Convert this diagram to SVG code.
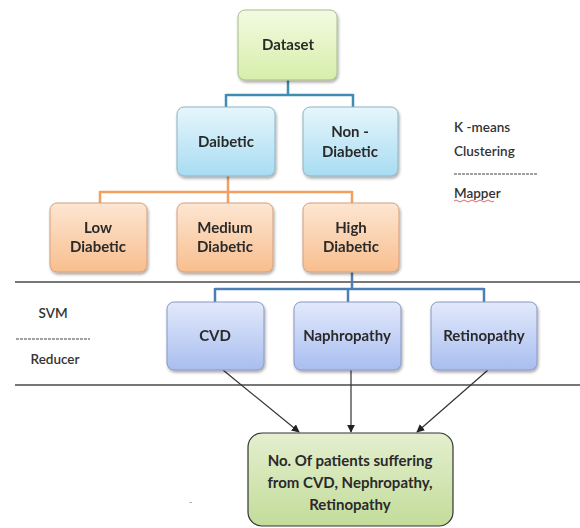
<svg xmlns="http://www.w3.org/2000/svg" width="580" height="528" viewBox="0 0 580 528">
<defs>
  <linearGradient id="gGreen" x1="0" y1="0" x2="0" y2="1">
    <stop offset="0" stop-color="#f4fae2"/>
    <stop offset="1" stop-color="#d6eeaa"/>
  </linearGradient>
  <linearGradient id="gCyan" x1="0" y1="0" x2="0" y2="1">
    <stop offset="0" stop-color="#e6f6fc"/>
    <stop offset="1" stop-color="#a8dcf2"/>
  </linearGradient>
  <linearGradient id="gOrange" x1="0" y1="0" x2="0" y2="1">
    <stop offset="0" stop-color="#fde6d2"/>
    <stop offset="1" stop-color="#f8be8e"/>
  </linearGradient>
  <linearGradient id="gBlue" x1="0" y1="0" x2="0" y2="1">
    <stop offset="0" stop-color="#e2e9fb"/>
    <stop offset="1" stop-color="#a9bef0"/>
  </linearGradient>
  <linearGradient id="gResult" x1="0" y1="0" x2="0" y2="1">
    <stop offset="0" stop-color="#e4efcf"/>
    <stop offset="1" stop-color="#c3dc9a"/>
  </linearGradient>
  <filter id="shadow" x="-10%" y="-10%" width="125%" height="130%">
    <feGaussianBlur in="SourceAlpha" stdDeviation="1.5"/>
    <feOffset dx="1" dy="2" result="b"/>
    <feComponentTransfer><feFuncA type="linear" slope="0.35"/></feComponentTransfer>
    <feMerge><feMergeNode/><feMergeNode in="SourceGraphic"/></feMerge>
  </filter>
  <marker id="arrow" viewBox="0 0 10 10" refX="9" refY="5" markerWidth="8" markerHeight="8" orient="auto-start-reverse" markerUnits="userSpaceOnUse">
    <path d="M0,0 L10,5 L0,10 z" fill="#222"/>
  </marker>
</defs>
<style>
  .box { filter: url(#shadow); }
  .green { fill: url(#gGreen); stroke: #a9bd8c; stroke-width: 1; }
  .cyan { fill: url(#gCyan); stroke: #8cb4c6; stroke-width: 1; }
  .orange { fill: url(#gOrange); stroke: #d49f7c; stroke-width: 1; }
  .blue { fill: url(#gBlue); stroke: #8797c2; stroke-width: 1; }
  .result { fill: url(#gResult); stroke: #333; stroke-width: 1.2; }
  .lbl { font-family: Lato, "Liberation Sans", sans-serif; font-weight: bold; font-size: 15px; fill: #2a2a2a; text-anchor: middle; }
  .side { font-family: Lato, "Liberation Sans", sans-serif; font-weight: 600; font-size: 13.5px; fill: #333; }
  .cTeal { fill: none; stroke: #3f8db2; stroke-width: 2.5; }
  .cOrange { fill: none; stroke: #f2a060; stroke-width: 2.5; }
  .cBlue { fill: none; stroke: #4d7fb3; stroke-width: 2.5; }
  .sep { stroke: #4a4a4a; stroke-width: 1.3; }
  .dash { stroke: #444; stroke-width: 1.1; stroke-dasharray: 3,1; }
  .arr { stroke: #333; stroke-width: 1.2; fill: none; marker-end: url(#arrow); }
</style>

<g id="separators">
  <line class="sep" x1="15" y1="282" x2="580" y2="282"/>
  <line class="sep" x1="15" y1="385" x2="580" y2="385"/>
</g>

<g id="connectors">
  <path class="cTeal" d="M288,80 V95 M226,95 H353 M226,94 V107 M353,94 V107"/>
  <path class="cOrange" d="M228,176 V192 M100,192 H352 M100,191 V203 M228,191 V203 M352,191 V203"/>
  <path class="cBlue" d="M352,272 V289 M215,289 H484 M215,288 V302 M348,288 V302 M484,288 V302"/>
  <line class="arr" x1="223" y1="370" x2="299" y2="432"/>
  <line class="arr" x1="351" y1="370" x2="351" y2="432"/>
  <line class="arr" x1="488" y1="370" x2="417" y2="432"/>
</g>

<g id="dataset" class="box">
  <rect class="green" x="238" y="10" width="99" height="70" rx="7"/>
  <text class="lbl" x="288" y="50">Dataset</text>
</g>

<g id="daibetic" class="box">
  <rect class="cyan" x="177" y="107" width="98" height="69" rx="7"/>
  <text class="lbl" x="226" y="147">Daibetic</text>
</g>

<g id="non-diabetic" class="box">
  <rect class="cyan" x="303" y="107" width="95" height="69" rx="7"/>
  <text class="lbl" x="350" y="137">Non -</text>
  <text class="lbl" x="350" y="157">Diabetic</text>
</g>

<g id="low" class="box">
  <rect class="orange" x="50" y="203" width="97" height="69" rx="7"/>
  <text class="lbl" x="98" y="233">Low</text>
  <text class="lbl" x="98" y="252">Diabetic</text>
</g>

<g id="medium" class="box">
  <rect class="orange" x="177" y="203" width="96" height="69" rx="7"/>
  <text class="lbl" x="225" y="233">Medium</text>
  <text class="lbl" x="225" y="252">Diabetic</text>
</g>

<g id="high" class="box">
  <rect class="orange" x="303" y="203" width="96" height="69" rx="7"/>
  <text class="lbl" x="351" y="233">High</text>
  <text class="lbl" x="351" y="252">Diabetic</text>
</g>

<g id="cvd" class="box">
  <rect class="blue" x="167" y="302" width="97" height="68" rx="7"/>
  <text class="lbl" x="215" y="341">CVD</text>
</g>

<g id="naphropathy" class="box">
  <rect class="blue" x="294" y="302" width="107" height="68" rx="7"/>
  <text class="lbl" x="347" y="341">Naphropathy</text>
</g>

<g id="retinopathy" class="box">
  <rect class="blue" x="431" y="302" width="106" height="68" rx="7"/>
  <text class="lbl" x="484" y="341">Retinopathy</text>
</g>

<g id="result">
  <rect class="result" x="248" y="433" width="205" height="93" rx="14"/>
  <text class="lbl" x="350" y="466">No. Of patients suffering</text>
  <text class="lbl" x="350" y="488">from CVD, Nephropathy,</text>
  <text class="lbl" x="350" y="510">Retinopathy</text>
</g>

<g id="mapper-label">
  <text class="side" x="454" y="132">K -means</text>
  <text class="side" x="454" y="156">Clustering</text>
  <line class="dash" x1="454" y1="174" x2="537" y2="174"/>
  <text class="side" x="454" y="198">Mapper</text>
  <path d="M454,201 q2,-2 4,0 t4,0 t4,0 t4,0 t4,0 t4,0 t4,0 t4,0 t4,0 t4,0" fill="none" stroke="#d04040" stroke-width="0.8"/>
</g>

<g id="reducer-label">
  <text class="side" x="53" y="318" text-anchor="middle">SVM</text>
  <line class="dash" x1="16" y1="339" x2="90" y2="339"/>
  <text class="side" x="55" y="364" text-anchor="middle">Reducer</text>
</g>

<text x="189" y="505" font-family="Lato, sans-serif" font-size="9" fill="#888">-</text>
</svg>
